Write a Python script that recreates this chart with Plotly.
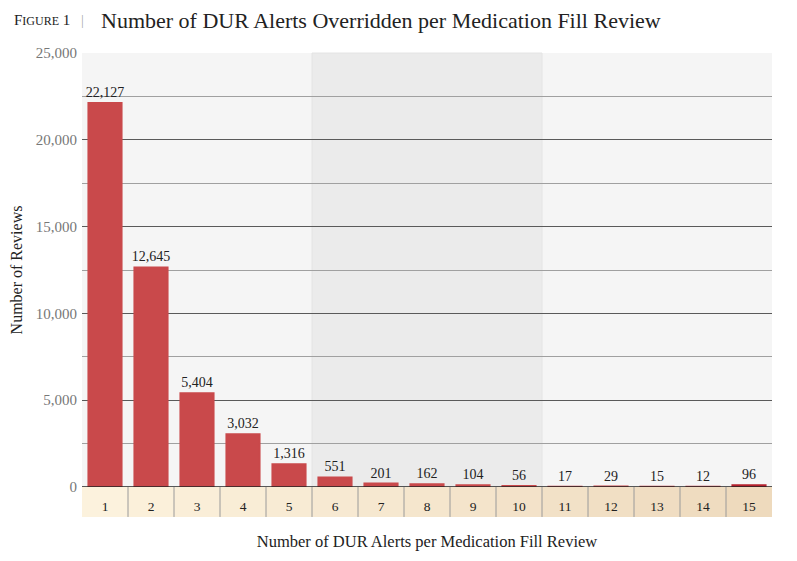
import plotly.graph_objects as go

alerts = list(range(1, 16))
reviews = [22127, 12645, 5404, 3032, 1316, 551, 201, 162, 104, 56, 17, 29, 15, 12, 96]
y_ticks = [0, 5000, 10000, 15000, 20000, 25000]

FONT = "Liberation Serif"
bar_colors = ["#c9494b"] * (len(alerts) - 1) + ["#b3202c"]
band_colors = ["#fcf2dd", "#fbf0da", "#faeed8", "#f9edd6", "#f8ebd4", "#f7e9d2", "#f6e8d0",
               "#f5e6cd", "#f4e4cb", "#f3e2c9", "#f2e1c7", "#f1dfc4", "#f0ddc2", "#efdcc0", "#eedabd"]

fig = go.Figure(go.Bar(
    x=alerts,
    y=reviews,
    marker=dict(color=bar_colors, line=dict(width=2, color=bar_colors)),
    texttemplate="%{y:,}",
    textposition="outside",
    textfont=dict(family=FONT, size=14, color="#222"),
    cliponaxis=False,
    hoverinfo="x+y",
))

shapes = [dict(type="rect", xref="x", yref="paper", x0=5.5, x1=10.5, y0=0, y1=1,
               fillcolor="#ebebeb", line=dict(width=1, color="#e4e4e4"), layer="below")]
for i, a in enumerate(alerts):
    shapes.append(dict(type="rect", xref="x", yref="paper", x0=a - 0.5, x1=a + 0.5,
                       y0=-0.069, y1=0, fillcolor=band_colors[i], line=dict(width=0), layer="below"))
    if i > 0:
        shapes.append(dict(type="line", xref="x", yref="paper", x0=a - 0.5, x1=a - 0.5,
                           y0=-0.069, y1=0, line=dict(color="#9a9a9a", width=1)))
shapes.append(dict(type="line", xref="paper", yref="y", x0=0, x1=1, y0=0, y1=0,
                   line=dict(color="#222", width=1.5)))

# the page body adds an 8px offset, so the figure is 8px smaller than the window
fig.update_layout(
    width=789, height=553,
    margin=dict(l=74, r=25, t=45, b=74),
    paper_bgcolor="white",
    plot_bgcolor="#f5f5f5",
    font=dict(family=FONT, color="#222"),
    bargap=0.28,
    showlegend=False,
    uniformtext=dict(minsize=14, mode="show"),
    shapes=shapes,
    annotations=[
        dict(text="F<span style='font-size:12px'>IGURE</span> 1", xref="paper", yref="paper",
             x=-0.102, y=1.076, xanchor="left", yanchor="middle", showarrow=False,
             font=dict(family=FONT, size=15, color="#222")),
        dict(text="|", xref="paper", yref="paper", x=0.001, y=1.076, xanchor="center",
             yanchor="middle", showarrow=False, font=dict(family=FONT, size=14, color="#aaa")),
        dict(text="Number of DUR Alerts Overridden per Medication Fill Review", xref="paper",
             yref="paper", x=0.024, y=1.076, xanchor="left", yanchor="middle", showarrow=False,
             font=dict(family=FONT, size=22, color="#222")),
    ],
)

fig.update_xaxes(
    range=[0.5, 15.5], automargin=False,
    tickmode="array", tickvals=alerts, ticktext=[str(a) for a in alerts],
    tickfont=dict(family=FONT, size=13.5, color="#222"),
    ticks="", ticklabelstandoff=9,
    showgrid=False, zeroline=False, showline=False, fixedrange=True,
    title=dict(text="Number of DUR Alerts per Medication Fill Review",
               font=dict(family=FONT, size=16.5, color="#222"), standoff=22),
)
fig.update_yaxes(
    range=[0, 25000], automargin=False,
    tickmode="array", tickvals=y_ticks, tickformat=",",
    tickfont=dict(family=FONT, size=15, color="#777"),
    ticks="", ticklabelstandoff=4,
    showgrid=True, gridcolor="#5a5a5a", gridwidth=1,
    minor=dict(dtick=2500, showgrid=True, gridcolor="#a0a0a0", gridwidth=1),
    zeroline=False, showline=False, fixedrange=True,
    title=dict(text="Number of Reviews", font=dict(family=FONT, size=16, color="#222"),
               standoff=12),
)

fig.write_html("out.html")
